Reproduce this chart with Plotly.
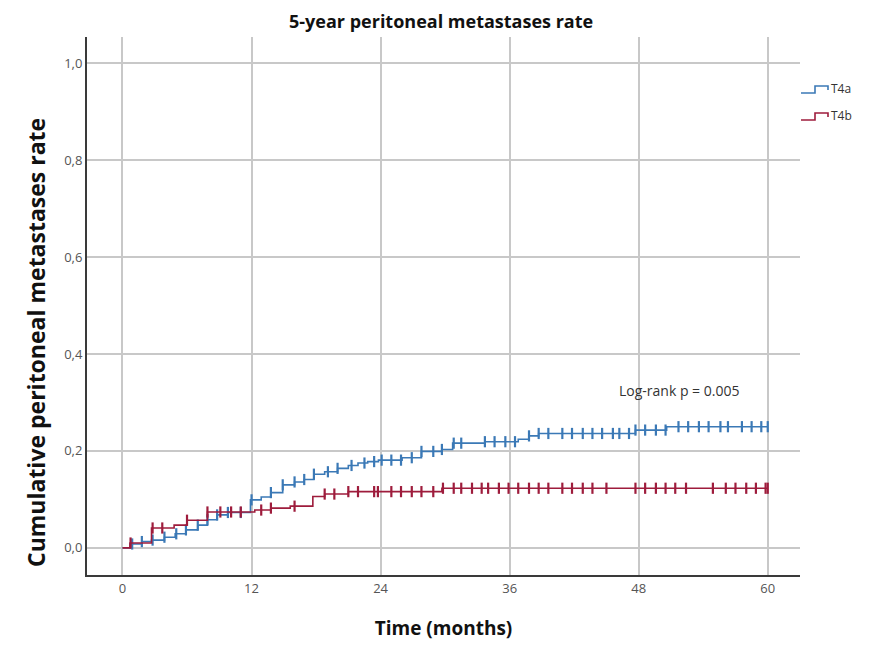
import plotly.graph_objects as go

# ---- data ----
t4a_times = [0, 0.7, 1.8, 2.7, 3.9, 4.9, 5.9, 7.0, 7.9, 8.8, 9.8, 11.9, 12.9, 13.8, 14.9,
             16.0, 16.9, 17.8, 18.8, 20.0, 21.0, 21.9, 22.8, 23.8, 26.0, 27.8, 29.7, 30.7,
             33.7, 36.8, 37.8, 38.7, 47.7, 50.6]
t4a_values = [0, 0.008, 0.013, 0.016, 0.022, 0.029, 0.037, 0.047, 0.058, 0.068, 0.073, 0.099,
              0.105, 0.114, 0.130, 0.136, 0.141, 0.152, 0.157, 0.164, 0.170, 0.175, 0.178,
              0.181, 0.186, 0.199, 0.203, 0.216, 0.219, 0.224, 0.231, 0.236, 0.243, 0.250]
t4a_censored = [0.9, 1.8, 2.8, 3.9, 5.0, 5.9, 7.0, 7.9, 8.8, 9.8, 11.0, 12.0, 13.8, 14.9, 16.0,
                16.9, 17.8, 19.1, 20.0, 21.3, 22.5, 23.4, 24.1, 25.0, 25.9, 26.9, 27.8, 28.9,
                29.7, 30.8, 31.5, 33.7, 34.6, 35.6, 36.5, 37.8, 38.7, 39.6, 40.9, 41.8, 42.8,
                43.7, 44.6, 45.6, 46.2, 47.1, 47.7, 48.6, 49.6, 50.5, 51.7, 52.6, 53.6, 54.5,
                55.6, 56.3, 57.6, 58.5, 59.4, 60.0]

t4b_times = [0, 0.7, 2.7, 4.8, 6.0, 7.9, 12.3, 13.8, 15.6, 17.7, 18.8, 21.0, 29.7]
t4b_values = [0, 0.010, 0.041, 0.047, 0.057, 0.074, 0.078, 0.082, 0.086, 0.106, 0.111,
              0.116, 0.123]
t4b_censored = [0.75, 2.8, 3.7, 6.0, 7.9, 9.1, 10.1, 11.0, 12.9, 13.8, 16.0, 18.8, 19.7, 21.0,
                21.9, 23.4, 23.75, 25.0, 25.9, 26.9, 27.8, 28.9, 29.8, 30.8, 31.5, 32.5, 33.4,
                34.0, 35.0, 35.9, 36.8, 37.8, 38.7, 39.6, 40.9, 41.8, 42.8, 43.7, 45.0, 47.7,
                48.6, 49.6, 50.5, 51.4, 52.4, 54.9, 56.1, 57.0, 58.0, 58.9, 59.8, 60.0]

x_ticks = [0, 12, 24, 36, 48, 60]
y_ticks = [0.0, 0.2, 0.4, 0.6, 0.8, 1.0]
y_tick_labels = ["0,0", "0,2", "0,4", "0,6", "0,8", "1,0"]

series = [
    ("T4a", t4a_times, t4a_values, t4a_censored, "#3b79b6"),
    ("T4b", t4b_times, t4b_values, t4b_censored, "#9e1c3c"),
]

# The page body adds an 8px margin, so the figure is drawn 8px in from the window edge.
OFF = 8
W, H = 869 - OFF, 648 - OFF
# plot area in window pixels: x 87..800, y 37..575
ML, MT = 87 - OFF, 37 - OFF
MR, MB = W - (800 - OFF), H - (575 - OFF)
PW, PH = W - ML - MR, H - MT - MB


def px(x):
    """window x pixel -> paper x"""
    return (x - OFF - ML) / PW


def py(y):
    """window y pixel -> paper y"""
    return (H - MB - (y - OFF)) / PH


def step_value(times, values, t):
    v = values[0]
    for tt, vv in zip(times, values):
        if tt <= t:
            v = vv
    return v


fig = go.Figure()
shapes = []
annotations = []
for i, (name, times, values, cens, color) in enumerate(series):
    end = max(cens)
    xs = list(times) + [end]
    ys = list(values) + [values[-1]]
    fig.add_trace(go.Scatter(x=xs, y=ys, mode="lines", name=name, showlegend=False,
                             line=dict(color=color, width=1.6, shape="hv")))
    fig.add_trace(go.Scatter(x=cens, y=[step_value(times, values, c) for c in cens],
                             mode="markers", showlegend=False, hoverinfo="skip",
                             marker=dict(symbol="line-ns", size=8,
                                         line=dict(color=color, width=2.2))))
    # legend entry with a step-shaped icon
    base = 93 + 27 * i
    path = (f"M {px(801)} {py(base)} L {px(815)} {py(base)} L {px(815)} {py(base - 7)} "
            f"L {px(828)} {py(base - 7)} L {px(828)} {py(base - 3)}")
    shapes.append(dict(type="path", xref="paper", yref="paper", path=path,
                       line=dict(color=color, width=1.6)))
    annotations.append(dict(x=px(829), y=py(base - 5), xref="paper", yref="paper",
                            xanchor="left", yanchor="middle", text=name, showarrow=False,
                            font=dict(family="Open Sans", size=12, color="#333333")))

annotations.append(dict(x=57.5, y=0.324, xref="x", yref="y", xanchor="right",
                        yanchor="middle", text="Log-rank p = 0.005", showarrow=False,
                        font=dict(family="Open Sans", size=14, color="#333333")))
annotations.append(dict(x=px(36), y=py(343), xref="paper", yref="paper", xanchor="center",
                        yanchor="middle", textangle=-90, showarrow=False,
                        text="<b>Cumulative peritoneal metastases rate</b>",
                        font=dict(family="Open Sans", size=23, color="#111111")))
annotations.append(dict(x=px(441), y=py(21), xref="paper", yref="paper", xanchor="center",
                        yanchor="middle", showarrow=False,
                        text="<b>5-year peritoneal metastases rate</b>",
                        font=dict(family="Open Sans", size=18, color="#111111")))

fig.update_layout(
    width=W, height=H,
    margin=dict(l=ML, r=MR, t=MT, b=MB, autoexpand=False),
    paper_bgcolor="white", plot_bgcolor="white",
    font=dict(family="Open Sans", color="#444444"),
    showlegend=False,
    shapes=shapes,
    annotations=annotations,
    xaxis=dict(range=[-3.3, 63.0], tickvals=x_ticks, ticktext=[str(v) for v in x_ticks],
               showgrid=True, gridcolor="#c8c8c8", gridwidth=1.5, zeroline=False,
               showline=True, linecolor="#3a3a3a", linewidth=2, ticks="", automargin=False,
               tickfont=dict(size=13, color="#555555"),
               title=dict(text="<b>Time (months)</b>", standoff=26,
                          font=dict(family="Open Sans", size=19, color="#111111"))),
    yaxis=dict(range=[-0.056, 1.054], tickvals=y_ticks, ticktext=y_tick_labels,
               showgrid=True, gridcolor="#c8c8c8", gridwidth=1.5, zeroline=False,
               showline=True, linecolor="#3a3a3a", linewidth=2, ticks="", automargin=False,
               tickfont=dict(size=13, color="#555555")),
)

fig.write_html("out.html")
